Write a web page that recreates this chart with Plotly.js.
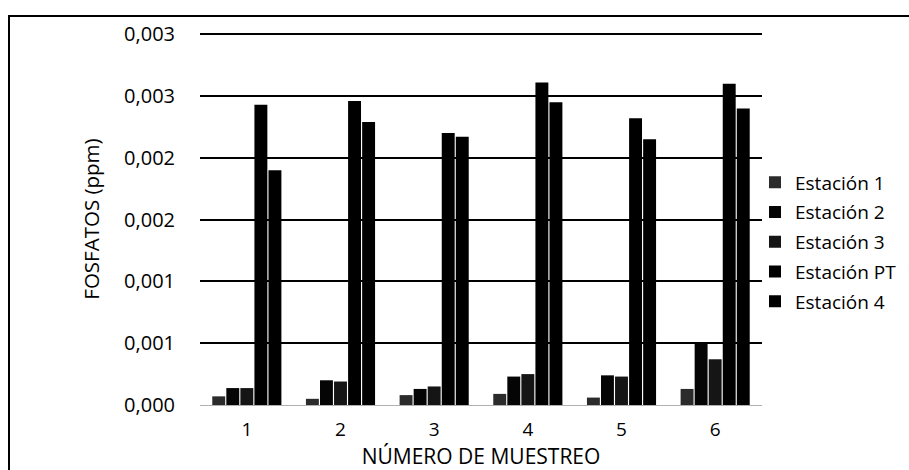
<!DOCTYPE html>
<html>
<head>
<meta charset="utf-8">
<script src="https://cdn.plot.ly/plotly-3.0.1.min.js"></script>
<style>
  html, body { margin: 0; padding: 0; background: #fff; }
  #wrap { position: relative; width: 909px; height: 470px; overflow: hidden; }
  #frame { position: absolute; left: 8px; top: 15px; width: 1000px; height: 1000px;
           border-top: 2px solid #000; border-left: 2px solid #000; box-sizing: border-box; pointer-events: none; }
  #chart { position: absolute; left: 0; top: 0; width: 909px; height: 470px; }
</style>
</head>
<body>
<div id="wrap">
  <div id="chart"></div>
  <div id="frame"></div>
</div>
<script>
// Data
const categories = ['1', '2', '3', '4', '5', '6'];
const seriesNames = ['Estación 1', 'Estación 2', 'Estación 3', 'Estación PT', 'Estación 4'];
const estacion1  = [0.00007, 0.00005, 0.00008, 0.00009, 0.00006, 0.00013];
const estacion2  = [0.000137, 0.00020, 0.00013, 0.00023, 0.00024, 0.00050];
const estacion3  = [0.000137, 0.00019, 0.00015, 0.00025, 0.00023, 0.00037];
const estacionPT = [0.00243, 0.00246, 0.00220, 0.00261, 0.00232, 0.00260];
const estacion4  = [0.00190, 0.00229, 0.00217, 0.00245, 0.00215, 0.00240];
const yTickVals = [0, 0.0005, 0.001, 0.0015, 0.002, 0.0025, 0.003];
const yTickText = ['0,000', '0,001', '0,001', '0,002', '0,002', '0,003', '0,003'];

const allSeries = [estacion1, estacion2, estacion3, estacionPT, estacion4];
const colors = ['#2b2b2b', '#050505', '#151515', '#000000', '#000000'];
const FONT = 'Open Sans, Lato, sans-serif';

const traces = allSeries.map((vals, i) => ({
  type: 'bar',
  name: seriesNames[i],
  x: categories,
  y: vals,
  marker: { color: colors[i], line: { width: 0 } },
  legendgroup: 'g' + i
}));

const layout = {
  width: 909,
  height: 470,
  margin: { l: 200, r: 147, t: 33, b: 65, autoexpand: false },
  paper_bgcolor: '#fff',
  plot_bgcolor: '#fff',
  font: { family: FONT, color: '#000', size: 18 },
  barmode: 'group',
  bargap: 0.25,
  bargroupgap: 0.08,
  showlegend: true,
  legend: {
    xref: 'container', x: 755 / 909, xanchor: 'left',
    yref: 'container', y: 1 - 242 / 470, yanchor: 'middle',
    traceorder: 'grouped',
    tracegroupgap: 2,
    font: { family: FONT, size: 19, color: '#000' },
    itemwidth: 30,
    bgcolor: 'rgba(0,0,0,0)'
  },
  xaxis: {
    type: 'category',
    showgrid: false,
    showline: false,
    zeroline: false,
    ticks: 'outside',
    ticklen: 7,
    tickcolor: 'rgba(0,0,0,0)',
    tickfont: { family: FONT, size: 19, color: '#000' },
    title: { text: 'NÚMERO DE MUESTREO', font: { family: FONT, size: 21, color: '#000' }, standoff: 5 }
  },
  yaxis: {
    range: [0, 0.00301],
    tickvals: yTickVals,
    ticktext: yTickText,
    showgrid: true,
    gridcolor: '#000',
    gridwidth: 2,
    zeroline: true,
    zerolinecolor: '#b0b0b0',
    zerolinewidth: 1,
    showline: false,
    ticks: 'outside',
    ticklen: 20,
    tickcolor: 'rgba(0,0,0,0)',
    tickfont: { family: FONT, size: 20, color: '#000' },
    title: { text: 'FOSFATOS (ppm)', font: { family: FONT, size: 20.5, color: '#000' }, standoff: 18 }
  }
};

Plotly.newPlot('chart', traces, layout, { displayModeBar: false, staticPlot: true });
</script>
</body>
</html>
